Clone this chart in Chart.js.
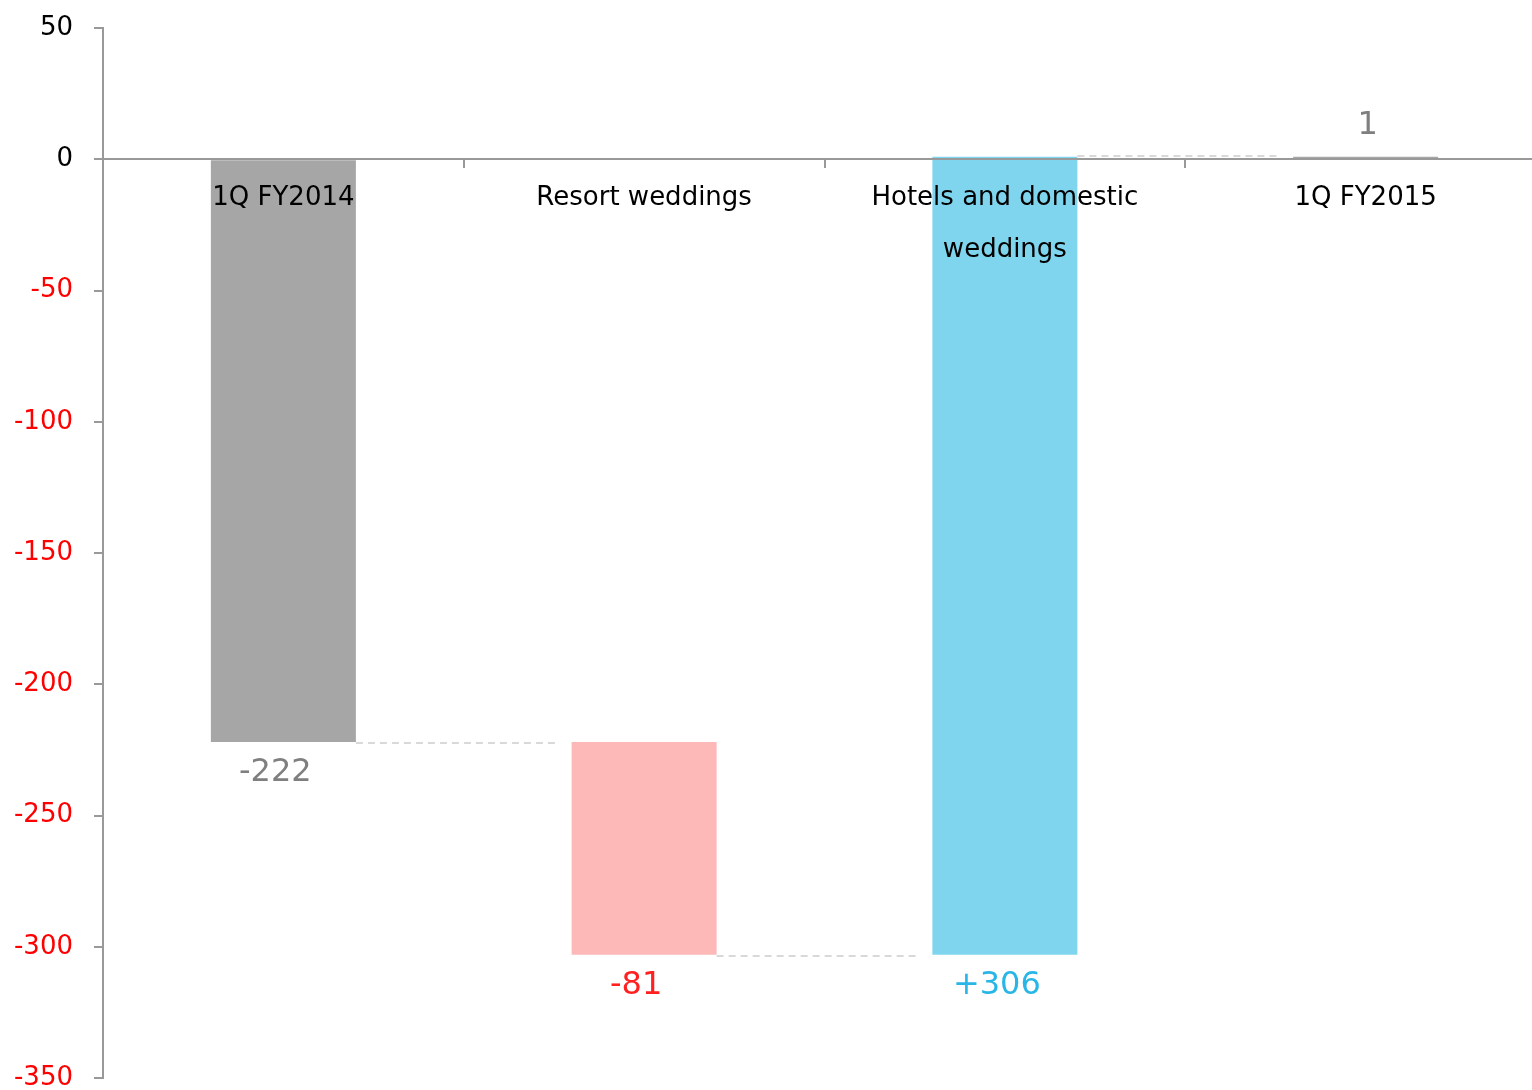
<!DOCTYPE html>
<html>
<head>
<meta charset="utf-8">
<script src="https://cdn.jsdelivr.net/npm/chart.js@4.4.1/dist/chart.umd.min.js"></script>
<style>
  html, body { margin: 0; padding: 0; background: #fff; overflow: hidden; }
  #wrap { width: 1546px; height: 1090px; }
</style>
</head>
<body>
<div id="wrap"><canvas id="chart" width="1546" height="1090"></canvas></div>
<script>
// waterfall data
const categories = ['1Q FY2014', 'Resort weddings', ['Hotels and domestic', 'weddings'], '1Q FY2015'];
const barStarts = [0, -222, -303, 0];
const barEnds = [-222, -303, 1, 1];
const valueLabels = ['-222', '-81', '+306', '1'];
const yMin = -350, yMax = 50, yStep = 50;

const barColors = ['#a6a6a6', '#fdb8b8', '#80d5ee', '#a6a6a6'];
const labelColors = ['#7f7f7f', '#ff2020', '#29b6e6', '#7f7f7f'];
const FONT = "'DejaVu Sans', Verdana, sans-serif";

// dashed lines joining the bar ends
const connectorPlugin = {
  id: 'connectors',
  beforeDatasetsDraw(chart) {
    const { ctx } = chart;
    const bars = chart.getDatasetMeta(0).data;
    const yScale = chart.scales.y;
    ctx.save();
    ctx.strokeStyle = '#d9d9d9';
    ctx.lineWidth = 2;
    ctx.setLineDash([7, 5]);
    for (let i = 0; i < bars.length - 1; i++) {
      const a = bars[i], b = bars[i + 1];
      const py = Math.round(yScale.getPixelForValue(barEnds[i])) + (barEnds[i] < 0 ? 1 : -1);
      ctx.beginPath();
      ctx.moveTo(a.x + a.width / 2, py);
      ctx.lineTo(b.x - b.width / 2 - 12, py);
      ctx.stroke();
    }
    ctx.restore();
  }
};

// value labels under / over the bars
const valueLabelPlugin = {
  id: 'valueLabels',
  afterDatasetsDraw(chart) {
    const { ctx } = chart;
    const bars = chart.getDatasetMeta(0).data;
    ctx.save();
    ctx.font = '32px ' + FONT;
    ctx.textAlign = 'center';
    ctx.textBaseline = 'middle';
    bars.forEach((bar, i) => {
      const top = Math.min(bar.y, bar.base);
      const bottom = Math.max(bar.y, bar.base);
      ctx.fillStyle = labelColors[i];
      if (i === bars.length - 1) {
        ctx.fillText(valueLabels[i], bar.x + 2, top - 31);
      } else {
        ctx.fillText(valueLabels[i], bar.x - 8, bottom + 31);
      }
    });
    ctx.restore();
  }
};

new Chart(document.getElementById('chart'), {
  type: 'bar',
  data: {
    labels: categories,
    datasets: [{
      data: barStarts.map((s, i) => [s, barEnds[i]]),
      backgroundColor: barColors,
      borderWidth: 0,
      barPercentage: 1,
      categoryPercentage: 0.402
    }]
  },
  options: {
    responsive: false,
    animation: false,
    layout: { padding: { top: 28, bottom: 12, left: 0, right: 0 } },
    plugins: { legend: { display: false }, tooltip: { enabled: false } },
    scales: {
      x: {
        position: { y: 0 },
        offset: true,
        grid: { offset: true, drawOnChartArea: false, drawTicks: true, tickLength: 8, color: '#999', lineWidth: 2, z: 1 },
        border: { display: true, color: '#999', width: 2, z: 1 },
        ticks: { z: 1, color: '#000', font: { family: FONT, size: 26, lineHeight: 2 }, padding: 5, maxRotation: 0, autoSkip: false },
        afterFit(scale) { scale.height = 0; scale.paddingLeft = 0; scale.paddingRight = 0; }
      },
      y: {
        min: yMin,
        max: yMax,
        ticks: {
          stepSize: yStep,
          color: (c) => c.tick.value < 0 ? '#ff0000' : '#000000',
          font: { family: FONT, size: 26 },
          padding: 21
        },
        grid: { drawOnChartArea: false, drawTicks: true, tickLength: 9, color: '#999', lineWidth: 2 },
        border: { display: true, color: '#999', width: 2 },
        afterFit(scale) { scale.width = 103; scale.paddingTop = 0; scale.paddingBottom = 0; }
      }
    }
  },
  plugins: [connectorPlugin, valueLabelPlugin]
});
</script>
</body>
</html>
